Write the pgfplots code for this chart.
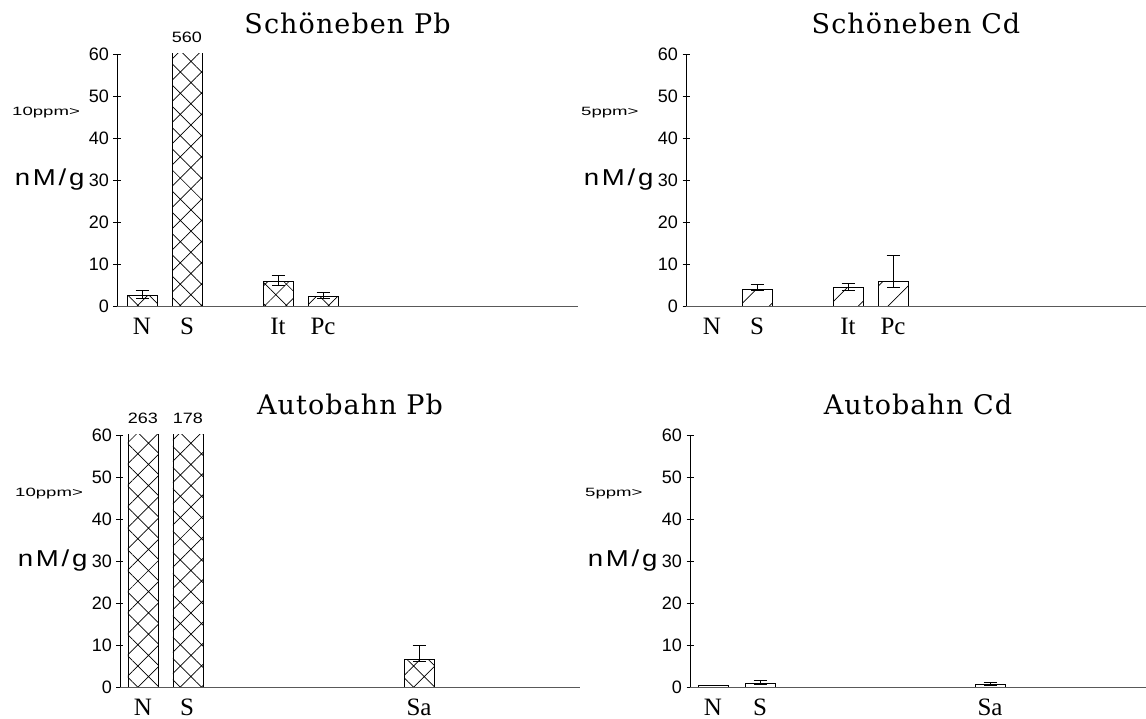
\documentclass[border=0pt]{standalone}
\usepackage{pgfplots}
\pgfplotsset{compat=1.18}
\usepackage{graphicx}
\usetikzlibrary{patterns.meta}
\usepackage{fontspec}
\setmainfont{Liberation Serif}
\newfontfamily\tickfont{Liberation Sans}
\newfontfamily\titlefont[LetterSpace=4]{DejaVu Serif}
\newfontfamily\ylabfont[LetterSpace=10]{Liberation Sans}

\pgfplotsset{
  panel/.style={
    x=1pt, y=4.2pt, xmin=0, ymin=0, ymax=60,
    axis lines=left, axis line style={-, line width=0.8pt},
    x axis line style={black!65},
    ytick={0,10,...,60}, tick align=center, major tick length=7pt,
    tick style={line width=0.8pt, black},
    xtick style={draw=none},
    /pgf/number format/assume math mode=true,
    yticklabel style={font=\tickfont\fontsize{18}{18}\selectfont, anchor=east, xshift=-1pt},
    xticklabel style={font=\fontsize{25}{25}\selectfont, anchor=base, yshift=-25pt},
    ylabel={\scalebox{1.2}[1]{nM/g}},
    ylabel style={font=\ylabfont\fontsize{23}{23}\selectfont, rotate=-90, at={(ticklabel cs:0.5)}, anchor=east, inner sep=1pt},
    title style={font=\titlefont\fontsize{27}{27}\selectfont, at={(0.5,1)}, anchor=base, yshift=14.5pt},
    clip mode=individual,
  },
  errs/.style={error bars/.cd, y dir=both, y explicit,
    error mark options={rotate=90, mark size=6.5pt, line width=0.8pt},
    error bar style={line width=0.8pt}},
  hatchbar/.style={ybar, bar width=30, draw=black, line width=0.8pt,
    pattern={Hatch[angle=45,distance=15pt,line width=0.7pt]}, pattern color=black, errs},
  linebar/.style={ybar, bar width=30, draw=black, line width=0.8pt,
    pattern={Lines[angle=45,distance=21pt,line width=0.7pt]}, pattern color=black, errs},
  plainbar/.style={ybar, bar width=30, draw=black, line width=0.8pt, fill=white, errs},
}
\newcommand{\ppm}[1]{\node[anchor=west, inner sep=0pt, xshift=-105pt, font=\tickfont\fontsize{12}{12}\selectfont] at (axis cs:0,46) {\scalebox{1.55}[1]{#1}};}
\newcommand{\bigval}[2]{\node[anchor=base, inner sep=0pt, yshift=11pt, font=\tickfont\fontsize{15}{15}\selectfont] at (axis cs:#1,60) {\scalebox{1.2}[1]{#2}};}

\begin{document}
\begin{tikzpicture}
\useasboundingbox (0,0) rectangle (1146pt,719pt);

% Schöneben Pb
\begin{axis}[panel, at={(117pt,413pt)}, anchor=south west, xmax=461,
  xtick={25,70,161,206}, xticklabels={N,S,It,Pc}, title={Schöneben Pb}]
\addplot[hatchbar] coordinates {
  (25,2.45) += (0,1.35) -= (0,0.6)
  (70,560) += (0,0) -= (0,0)
  (161,5.8) += (0,1.4) -= (0,1.0)
  (206,2.2) += (0,1.1) -= (0,0.4)
};
\ppm{10ppm>}
\bigval{70}{560}
\end{axis}

% Schöneben Cd
\begin{axis}[panel, at={(686pt,413pt)}, anchor=south west, xmax=460,
  xtick={26,71,162,207}, xticklabels={N,S,It,Pc}, title={Schöneben Cd}]
\addplot[linebar] coordinates {
  (71,4.0) += (0,1.2) -= (0,0.4)
  (162,4.4) += (0,1.0) -= (0,0.8)
  (207,5.8) += (0,6.3) -= (0,1.4)
};
\ppm{5ppm>}
\end{axis}

% Autobahn Pb
\begin{axis}[panel, at={(120pt,32pt)}, anchor=south west, xmax=460,
  xtick={23,67,299}, xticklabels={N,S,Sa}, title={Autobahn Pb}]
\addplot[hatchbar] coordinates {
  (23,263) += (0,0) -= (0,0)
  (68,178) += (0,0) -= (0,0)
  (299,6.6) += (0,3.4) -= (0,0.6)
};
\ppm{10ppm>}
\bigval{23}{263}
\bigval{68}{178}
\end{axis}

% Autobahn Cd
\begin{axis}[panel, at={(690pt,32pt)}, anchor=south west, xmax=456,
  xtick={23,70,300}, xticklabels={N,S,Sa}, title={Autobahn Cd}]
\addplot[plainbar] coordinates {
  (23,0.3) += (0,0) -= (0,0)
  (70,0.8) += (0,0.7) -= (0,0.3)
  (300,0.6) += (0,0.5) -= (0,0.2)
};
\ppm{5ppm>}
\end{axis}
\end{tikzpicture}
\end{document}
